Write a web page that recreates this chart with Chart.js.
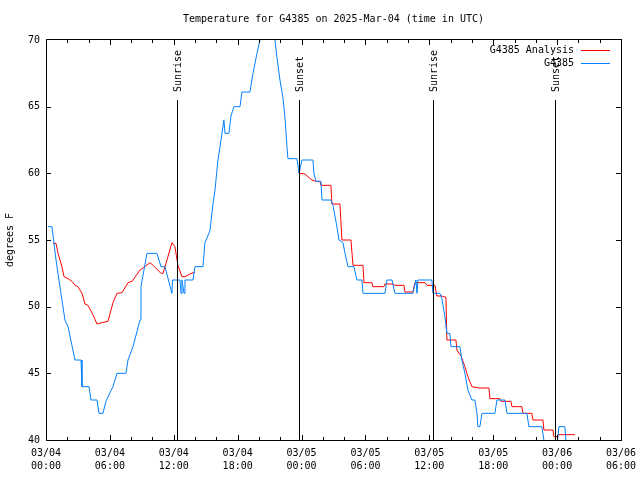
<!DOCTYPE html>
<html>
<head>
<meta charset="utf-8">
<script src="https://cdn.jsdelivr.net/npm/chart.js@4.4.1/dist/chart.umd.min.js"></script>
<style>
  html, body { margin: 0; padding: 0; background: #fff; }
  canvas { display: block; }
</style>
</head>
<body>
<canvas id="tempChart" width="640" height="480"></canvas>
<script>
// Data (hours since 03/04 00:00 UTC, degrees F)

const stationHours = [0.19, 0.56, 0.94, 1.31, 1.78, 2.07, 2.72, 3.29, 3.38, 4.04, 4.23, 4.79, 4.98, 5.35, 5.63, 6.10, 6.29, 6.67, 7.51, 7.70,
  8.17, 8.83, 8.92, 9.48, 10.42, 10.80, 11.17, 11.83, 11.88, 12.58, 12.68, 12.77, 12.96, 13.05, 13.80, 13.99, 14.74, 14.93, 15.40, 15.68,
  15.87, 16.15, 16.53, 16.71, 16.81, 17.18, 17.37, 17.65, 18.22, 18.40, 19.15, 19.44, 19.81, 20.09, 20.38, 20.85, 21.31, 21.50, 21.69, 21.97,
  22.25, 22.44, 22.63, 22.72, 23.57, 23.76, 24.04, 25.07, 25.16, 25.35, 25.82, 25.92, 26.76, 26.95, 27.32, 27.51, 27.89, 28.08, 28.36, 28.92,
  29.20, 29.67, 29.77, 31.83, 32.02, 32.49, 32.77, 34.46, 34.74, 34.84, 34.93, 36.24, 36.34, 37.00, 37.18, 37.46, 37.65, 37.93, 38.03, 38.87,
  39.06, 39.34, 39.62, 40.00, 40.28, 40.47, 40.56, 40.75, 40.94, 42.16, 42.35, 43.10, 43.29, 45.16, 45.35, 46.57, 46.76, 47.04, 47.98, 48.17,
  48.73, 48.83];
const stationTemps = [56, 56, 53.5, 51.5, 49, 48.5, 46, 46, 44, 44, 43, 43, 42, 42, 42.9, 43.7, 44, 45, 45, 46,
  47, 49, 51.5, 54, 54, 53, 53, 51, 52, 52, 51, 52, 51, 52, 52, 53, 53, 54.8, 55.7, 57.7,
  58.75, 61, 63, 64, 63, 63, 64.3, 65, 65, 66.1, 66.1, 67.5, 69, 70, 71, 71.5, 71, 70, 68.7, 67,
  65.7, 64.2, 62, 61.1, 61.1, 60, 61, 61, 60, 59.4, 59.4, 58, 58, 57.6, 56, 55, 54.8, 54, 53, 53,
  52, 52, 51, 51, 52, 52, 51, 51, 52, 51, 52, 52, 51, 51, 50.6, 49.25, 48, 48, 47, 47,
  46, 45, 43.75, 43, 43, 42, 41, 41, 42, 42, 43, 43, 42, 42, 41, 41, 40, 39.5, 39.5, 41,
  41, 40];

const analysisHours = [0.66, 0.94, 1.13, 1.50, 1.69, 2.07, 2.44, 2.72, 3.00, 3.38, 3.66, 3.94, 4.41, 4.79, 5.26, 5.82, 6.29, 6.67, 7.14, 7.70,
  8.08, 8.83, 9.11, 9.77, 10.05, 10.80, 10.99, 11.36, 11.83, 12.11, 12.39, 12.77, 13.05, 13.52, 13.99, 18.90,
  23.85, 24.32, 24.60, 24.98, 25.35, 25.73, 25.82, 26.76, 26.85, 27.61, 27.79, 28.64, 28.83, 29.77, 29.86, 30.61, 30.70, 31.74, 31.83, 32.58,
  32.77, 33.62, 33.71, 34.46, 34.65, 35.59, 35.78, 36.53, 36.71, 37.18, 37.56, 37.65, 38.50, 38.59, 38.97, 39.34, 39.62, 40.00, 40.66, 41.60,
  41.69, 42.63, 42.72, 43.66, 43.76, 44.69, 44.79, 45.63, 45.73, 46.67, 46.76, 47.61, 47.70, 47.98, 48.08, 49.67];
const analysisTemps = [54.75, 54.75, 54, 53, 52.25, 52.1, 51.9, 51.6, 51.5, 51, 50.2, 50.1, 49.4, 48.7, 48.8, 48.9, 50.3, 51, 51.05, 51.8,
  51.9, 52.75, 52.9, 53.3, 53.1, 52.5, 52.5, 53.5, 54.8, 54.5, 53.1, 52.25, 52.25, 52.45, 52.6, null,
  60, 59.95, 59.75, 59.5, 59.4, 59.4, 59.1, 59.1, 57.7, 57.7, 55, 55, 53.1, 53.1, 51.8, 51.8, 51.5, 51.5, 51.7, 51.7,
  51.6, 51.6, 51.1, 51.1, 51.8, 51.8, 51.6, 51.6, 50.8, 50.8, 50.7, 47.5, 47.5, 46.75, 46.3, 45.5, 44.75, 44.0, 43.9, 43.9,
  43.1, 43.1, 42.9, 42.9, 42.5, 42.5, 42.0, 42.0, 41.5, 41.5, 40.75, 40.75, 40.25, 40.25, 40.4, 40.4];

const xTickDates = ['03/04', '03/04', '03/04', '03/04', '03/05', '03/05', '03/05', '03/05', '03/06', '03/06'];
const xTickTimes = ['00:00', '06:00', '12:00', '18:00', '00:00', '06:00', '12:00', '18:00', '00:00', '06:00'];

const eventHours = [12.30, 23.76, 36.34, 47.79];
const eventNames = ['Sunrise', 'Sunset', 'Sunrise', 'Sunset'];

const FONT = '"DejaVu Sans Mono", "Liberation Mono", monospace';
const RED = '#ff0000';
const BLUE = '#0080ff';



// Frame, ticks, sun events, legend and titles (gnuplot look)

const gnuplotDecor = {
  id: 'gnuplotDecor',
  afterDatasetsDraw(chart) {
    const { ctx, chartArea: a, scales: { x, y } } = chart;
    ctx.save();
    ctx.strokeStyle = '#000';
    ctx.fillStyle = '#000';
    ctx.lineWidth = 1;

    // sun events
    ctx.font = '10px ' + FONT;
    eventHours.forEach((h, i) => {
      const px = Math.round(x.getPixelForValue(h)) + 0.5;
      const top = Math.round(y.getPixelForValue(65.5));
      ctx.beginPath();
      ctx.moveTo(px, top);
      ctx.lineTo(px, a.bottom);
      ctx.stroke();
      ctx.save();
      ctx.translate(px + 1, top - 8);
      ctx.rotate(-Math.PI / 2);
      ctx.textAlign = 'left';
      ctx.textBaseline = 'middle';
      ctx.fillText(eventNames[i], 0, 0);
      ctx.restore();
    });

    // border
    ctx.strokeRect(a.left + 0.5, a.top - 0.5, a.right - a.left, a.bottom - a.top + 1);

    // x ticks every 2 hours, major every 6
    ctx.beginPath();
    for (let h = 2; h < 54; h += 2) {
      const px = Math.round(x.getPixelForValue(h)) + 0.5;
      const len = h % 6 === 0 ? 5 : 3;
      ctx.moveTo(px, a.bottom);
      ctx.lineTo(px, a.bottom - len);
      ctx.moveTo(px, a.top);
      ctx.lineTo(px, a.top + len);
    }
    // y ticks
    for (let v = 45; v < 70; v += 5) {
      const py = Math.round(y.getPixelForValue(v)) + 0.5;
      ctx.moveTo(a.left, py);
      ctx.lineTo(a.left + 5, py);
      ctx.moveTo(a.right, py);
      ctx.lineTo(a.right - 5, py);
    }
    ctx.stroke();

    // legend
    const legend = [['G4385 Analysis', RED], ['G4385', BLUE]];
    ctx.textAlign = 'right';
    ctx.textBaseline = 'middle';
    legend.forEach(([label, color], i) => {
      const ly = a.top + 10 + i * 13;
      ctx.fillStyle = '#000';
      ctx.fillText(label, a.right - 47, ly);
      ctx.strokeStyle = color;
      ctx.beginPath();
      ctx.moveTo(a.right - 40, ly + 0.5);
      ctx.lineTo(a.right - 11, ly + 0.5);
      ctx.stroke();
    });

    // titles
    ctx.fillStyle = '#000';
    ctx.textAlign = 'center';
    ctx.fillText('Temperature for G4385 on 2025-Mar-04 (time in UTC)', (a.left + a.right) / 2, 19);
    ctx.save();
    ctx.translate(10, (a.top + a.bottom) / 2);
    ctx.rotate(-Math.PI / 2);
    ctx.fillText('degrees F', 0, 0);
    ctx.restore();

    ctx.restore();
  }
};



// Line Chart

const ctx = document.getElementById('tempChart').getContext('2d');

const tempChart = new Chart(ctx, {
  type: 'line',
  data: {
    datasets: [
      {
        label: 'G4385',
        data: stationHours.map((h, i) => ({ x: h, y: stationTemps[i] })),
        borderColor: BLUE,
        borderWidth: 1,
        pointRadius: 0,
        tension: 0,
        order: 0
      },
      {
        label: 'G4385 Analysis',
        data: analysisHours.map((h, i) => ({ x: h, y: analysisTemps[i] })),
        borderColor: RED,
        borderWidth: 1,
        pointRadius: 0,
        tension: 0,
        spanGaps: false,
        order: 1
      }
    ]
  },
  options: {
    responsive: false,
    animation: false,
    devicePixelRatio: 1,
    layout: { padding: { top: 40, right: 19, left: 0, bottom: 0 } },
    plugins: {
      legend: { display: false },
      title: { display: false },
      tooltip: { enabled: false }
    },
    scales: {
      x: {
        type: 'linear',
        min: 0,
        max: 54,
        grid: { display: false, drawTicks: false },
        border: { display: false },
        afterFit: (s) => {
          s.height = 40;
          s.paddingLeft = 0;
          s.paddingRight = 0;
        },
        ticks: {
          stepSize: 6,
          autoSkip: false,
          maxRotation: 0,
          padding: 7,
          color: '#000',
          font: { family: FONT, size: 10, lineHeight: 1.3 },
          callback: (v) => [xTickDates[v / 6], xTickTimes[v / 6]]
        }
      },
      y: {
        min: 40,
        max: 70,
        grid: { display: false, drawTicks: false },
        border: { display: false },
        afterFit: (s) => { s.width = 46; },
        ticks: {
          stepSize: 5,
          padding: 6,
          color: '#000',
          font: { family: FONT, size: 10 }
        }
      }
    }
  },
  plugins: [gnuplotDecor]
});
</script>
</body>
</html>
